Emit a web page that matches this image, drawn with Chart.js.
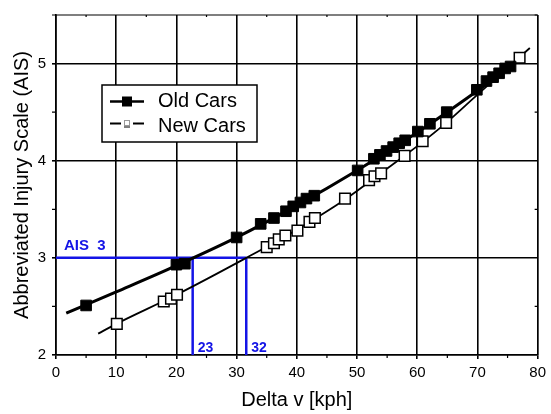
<!DOCTYPE html>
<html lang="en">
  <head>
    <meta charset="utf-8" />
    <title>AIS vs Delta v</title>
    <style>
      * {
        margin: 0;
        padding: 0;
      }
      body {
        background: white;
      }
    </style>
  </head>
  <body>
    <canvas id="myChart" width="551" height="414"></canvas>
    <script src="https://cdn.jsdelivr.net/npm/chart.js"></script>
    <script>
      // data
      const oldX = [5, 20, 21.4, 30, 34, 36.2, 38.2, 39.4, 40.6, 41.6, 42.9, 50.1, 52.8, 53.8, 54.9, 56, 57, 58, 60.1, 62.1, 64.9, 69.9, 71.5, 72.6, 73.6, 74.6, 75.5];
      const oldY = [2.51, 2.93, 2.94, 3.21, 3.35, 3.41, 3.48, 3.53, 3.57, 3.61, 3.64, 3.9, 4.02, 4.06, 4.1, 4.14, 4.18, 4.21, 4.3, 4.38, 4.5, 4.73, 4.82, 4.86, 4.9, 4.95, 4.97];
      const newX = [10.1, 17.9, 19.1, 20.1, 35, 36.2, 37, 38.1, 40.1, 42.1, 43, 48, 52, 52.9, 54, 57.9, 60.9, 64.8, 77];
      const newY = [2.32, 2.55, 2.58, 2.62, 3.11, 3.15, 3.19, 3.23, 3.28, 3.37, 3.41, 3.61, 3.8, 3.84, 3.87, 4.05, 4.2, 4.39, 5.06];

      // fitted curves
      const oldFitX = [1.7, 10, 20, 30, 40, 50, 60, 70, 75.5];
      const oldFitY = [2.43, 2.65, 2.92, 3.21, 3.54, 3.9, 4.29, 4.72, 4.97];
      const newFitX = [7, 10, 20, 31.6, 40, 48, 55, 60, 65, 70, 78.7];
      const newFitY = [2.22, 2.32, 2.62, 3.0, 3.29, 3.6, 3.92, 4.15, 4.4, 4.68, 5.16];

      // AIS 3 crossing
      const ais = 3;
      const cross = [22.7, 31.6];
      const crossLabels = ['23', '32'];

      const xTicks = [0, 10, 20, 30, 40, 50, 60, 70, 80];
      const yTicks = [2, 3, 4, 5];

      const pts = (xs, ys) => xs.map((x, i) => ({ x: x, y: ys[i] }));
      const blue = '#1414e6';
      const font = "'Liberation Sans', Arial, sans-serif";

      // frame, minor ticks, labels and legend
      const extras = {
        id: 'extras',
        afterDatasetsDraw(chart) {
          const {
            ctx,
            chartArea: { left, right, top, bottom },
            scales: { x, y },
          } = chart;
          ctx.save();
          ctx.strokeStyle = 'black';

          // top and right frame
          ctx.lineWidth = 1.2;
          ctx.beginPath();
          ctx.moveTo(left, top);
          ctx.lineTo(right, top);
          ctx.moveTo(right, top);
          ctx.lineTo(right, bottom);
          ctx.stroke();

          // minor ticks
          ctx.beginPath();
          for (let v = 5; v < 80; v += 10) {
            const px = x.getPixelForValue(v);
            ctx.moveTo(px, bottom);
            ctx.lineTo(px, bottom + 3);
            ctx.moveTo(px, top);
            ctx.lineTo(px, top + 2);
          }
          for (let v = 2.5; v <= 5.5; v += 1) {
            const py = y.getPixelForValue(v);
            ctx.moveTo(left, py);
            ctx.lineTo(left - 4, py);
            ctx.moveTo(right, py);
            ctx.lineTo(right - 3, py);
          }
          ctx.stroke();

          // blue labels
          ctx.fillStyle = blue;
          ctx.font = 'bold 15px ' + font;
          ctx.textAlign = 'left';
          ctx.textBaseline = 'alphabetic';
          ctx.fillText('AIS  3', x.getPixelForValue(0) + 8, y.getPixelForValue(ais) - 8);
          ctx.font = 'bold 14px ' + font;
          cross.forEach((v, i) => {
            ctx.fillText(crossLabels[i], x.getPixelForValue(v) + 5, bottom - 3);
          });

          // legend box
          const bx = 102, by = 85, bw = 155, bh = 57;
          ctx.fillStyle = 'white';
          ctx.fillRect(bx, by, bw, bh);
          ctx.lineWidth = 1.5;
          ctx.strokeStyle = 'black';
          ctx.strokeRect(bx, by, bw, bh);

          ctx.lineWidth = 2.5;
          ctx.beginPath();
          ctx.moveTo(110, 101.5);
          ctx.lineTo(144, 101.5);
          ctx.stroke();
          ctx.fillStyle = 'black';
          ctx.fillRect(122, 96.5, 10, 10);

          ctx.lineWidth = 2;
          ctx.beginPath();
          ctx.moveTo(110, 123.5);
          ctx.lineTo(121, 123.5);
          ctx.moveTo(133, 123.5);
          ctx.lineTo(144, 123.5);
          ctx.stroke();
          ctx.lineWidth = 1;
          ctx.strokeStyle = '#999';
          ctx.strokeRect(124.5, 120.5, 5, 5);
          ctx.strokeStyle = 'black';
          ctx.beginPath();
          ctx.moveTo(124, 127);
          ctx.lineTo(130, 127);
          ctx.stroke();

          ctx.fillStyle = 'black';
          ctx.font = '20px ' + font;
          ctx.textBaseline = 'middle';
          ctx.fillText('Old Cars', 158, 101);
          ctx.fillText('New Cars', 158, 126);
          ctx.restore();
        },
      };

      const config = {
        type: 'scatter',
        data: {
          datasets: [
            {
              label: 'Old Cars',
              data: pts(oldX, oldY),
              pointStyle: 'rect',
              pointRadius: 7.5,
              backgroundColor: 'black',
              borderColor: 'black',
              borderWidth: 1,
              showLine: false,
              order: 0,
            },
            {
              label: 'New Cars',
              data: pts(newX, newY),
              pointStyle: 'rect',
              pointRadius: 7.5,
              backgroundColor: 'white',
              borderColor: 'black',
              borderWidth: 1.5,
              showLine: false,
              order: 1,
            },
            {
              label: 'Old fit',
              data: pts(oldFitX, oldFitY),
              showLine: true,
              pointRadius: 0,
              borderColor: 'black',
              borderWidth: 3,
              cubicInterpolationMode: 'monotone',
              order: 2,
            },
            {
              label: 'New fit',
              data: pts(newFitX, newFitY),
              showLine: true,
              pointRadius: 0,
              borderColor: 'black',
              borderWidth: 1.8,
              cubicInterpolationMode: 'monotone',
              order: 3,
            },
            {
              label: 'AIS 3',
              data: [
                { x: 0, y: ais },
                { x: cross[1], y: ais },
              ],
              showLine: true,
              pointRadius: 0,
              borderColor: blue,
              borderWidth: 2.5,
              order: 4,
            },
            {
              label: 'cross old',
              data: [
                { x: cross[0], y: 2 },
                { x: cross[0], y: ais },
              ],
              showLine: true,
              pointRadius: 0,
              borderColor: blue,
              borderWidth: 2.5,
              order: 4,
            },
            {
              label: 'cross new',
              data: [
                { x: cross[1], y: 2 },
                { x: cross[1], y: ais },
              ],
              showLine: true,
              pointRadius: 0,
              borderColor: blue,
              borderWidth: 2.5,
              order: 4,
            },
          ],
        },
        options: {
          responsive: false,
          animation: false,
          layout: {
            padding: { top: 9, right: 10, left: 0, bottom: 0 },
          },
          plugins: {
            legend: { display: false },
            tooltip: { enabled: false },
          },
          scales: {
            x: {
              type: 'linear',
              min: 0,
              max: 80,
              afterBuildTicks: (s) => {
                s.ticks = xTicks.map((v) => ({ value: v }));
              },
              afterFit: (s) => {
                s.height = 59;
              },
              grid: { color: 'black', lineWidth: 1.6, tickLength: 4, tickColor: 'black' },
              border: { color: 'black', width: 1.6 },
              ticks: { color: 'black', font: { size: 15, family: font }, padding: 5, maxRotation: 0 },
              title: {
                display: true,
                text: 'Delta v [kph]',
                color: 'black',
                font: { size: 20, family: font },
                padding: { top: 0, bottom: 2 },
              },
            },
            y: {
              type: 'linear',
              min: 2,
              max: 5.5,
              afterBuildTicks: (s) => {
                s.ticks = yTicks.map((v) => ({ value: v }));
              },
              afterFit: (s) => {
                s.width = 56;
              },
              grid: { color: 'black', lineWidth: 1.6, tickLength: 4, tickColor: 'black' },
              border: { color: 'black', width: 1.6 },
              ticks: { color: 'black', font: { size: 15, family: font }, padding: 6 },
              title: {
                display: true,
                text: 'Abbreviated Injury Scale (AIS)',
                color: 'black',
                font: { size: 20, family: font },
                padding: { top: 10, bottom: 0 },
              },
            },
          },
        },
        plugins: [extras],
      };

      const myChart = new Chart(document.getElementById('myChart'), config);
    </script>
  </body>
</html>
